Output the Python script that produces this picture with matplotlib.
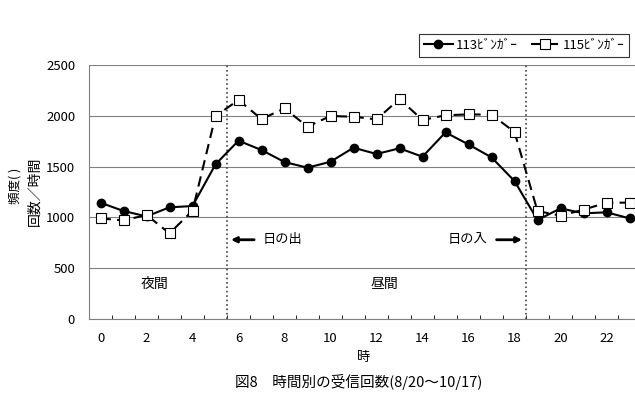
import matplotlib
matplotlib.use("Agg")
import matplotlib.pyplot as plt

plt.rcParams['font.family'] = ['Noto Sans CJK JP', 'DejaVu Sans']

hours = list(range(24))
tick_labels = [str(h) for h in range(0, 24, 2)]
s113 = [1145, 1063, 1010, 1099, 1112, 1522, 1755, 1663, 1545, 1489, 1548, 1686,
        1624, 1680, 1597, 1837, 1718, 1591, 1358, 974, 1089, 1040, 1050, 991]
s115 = [990, 970, 1024, 843, 1066, 1998, 2155, 1968, 2073, 1893, 1998, 1991,
        1965, 2165, 1959, 2005, 2014, 2011, 1841, 1063, 1017, 1076, 1145, 1145]
name113 = "113ﾋﾞﾝｶﾞｰ"
name115 = "115ﾋﾞﾝｶﾞｰ"
sunrise = 5.5
sunset = 18.5

fig = plt.figure(figsize=(6.35, 3.94), dpi=100)
ax = fig.add_axes([89/635, 75/394, 552/635, 254/394])

ax.plot(hours, s113, color='black', lw=1.5, marker='o', ms=6,
        mfc='black', mec='black', label=name113, zorder=3)
ax.plot(hours, s115, color='black', lw=1.5, ls=(0, (5, 3)), marker='s', ms=7,
        mfc='white', mec='black', mew=0.8, label=name115, zorder=4)

ax.set_xlim(-0.5, 23.5)
ax.set_ylim(0, 2500)
ax.set_yticks(range(0, 2501, 500))
ax.set_xticks(range(0, 24, 2))
ax.set_xticklabels(tick_labels)
ax.set_xticks([i + 0.5 for i in range(23)], minor=True)
ax.tick_params(axis='x', which='major', length=0, labelsize=9.5, pad=9)
ax.tick_params(axis='x', which='minor', direction='in', length=3, width=0.6)
ax.tick_params(axis='y', length=0, labelsize=9.5, pad=10)
ax.grid(axis='y', color='#808080', lw=0.8)
ax.set_axisbelow(True)
for sp in ['top', 'right']:
    ax.spines[sp].set_visible(False)
for sp in ['left', 'bottom']:
    ax.spines[sp].set_color('#808080')
    ax.spines[sp].set_linewidth(0.8)

ax.axvline(sunrise, color='#444444', ls=':', lw=1.2, zorder=2)
ax.axvline(sunset, color='#444444', ls=':', lw=1.2, zorder=2)

ax.annotate('', xy=(sunrise + 0.05, 780), xytext=(sunrise + 1.3, 780),
            arrowprops=dict(arrowstyle='-|>', color='black', lw=2, mutation_scale=8))
ax.text(sunrise + 1.55, 780, '日の出', fontsize=9.5, va='center', ha='left')
ax.annotate('', xy=(sunset - 0.05, 780), xytext=(sunset - 1.4, 780),
            arrowprops=dict(arrowstyle='-|>', color='black', lw=2, mutation_scale=8))
ax.text(sunset - 1.7, 780, '日の入', fontsize=9.5, va='center', ha='right')
ax.text(2.35, 345, '夜間', fontsize=10, va='center', ha='center')
ax.text(12.33, 345, '昼間', fontsize=10, va='center', ha='center')

fig.text(364/635, 1 - 358/394, '時', fontsize=9.5, ha='center', va='center')
fig.text(15/635, 1 - 186/394, '頻度( )', rotation=90, fontsize=9, ha='center', va='center')
fig.text(34/635, 1 - 191/394, '回数／時間', rotation=90, fontsize=10, ha='center', va='center')

fig.text(359/635, 1 - 382/394, '図8　時間別の受信回数(8/20～10/17)', fontsize=10.5,
         ha='center', va='center')

leg = ax.legend(loc='center', bbox_to_anchor=(524/635, 1 - 45.5/394),
                bbox_transform=fig.transFigure, ncol=2, fontsize=9.5,
                frameon=True, fancybox=False, edgecolor='black',
                handlelength=2.2, columnspacing=1.0, borderpad=0.35,
                handletextpad=0.2)
leg.get_frame().set_linewidth(0.8)

fig.savefig('out.png', dpi=100)
